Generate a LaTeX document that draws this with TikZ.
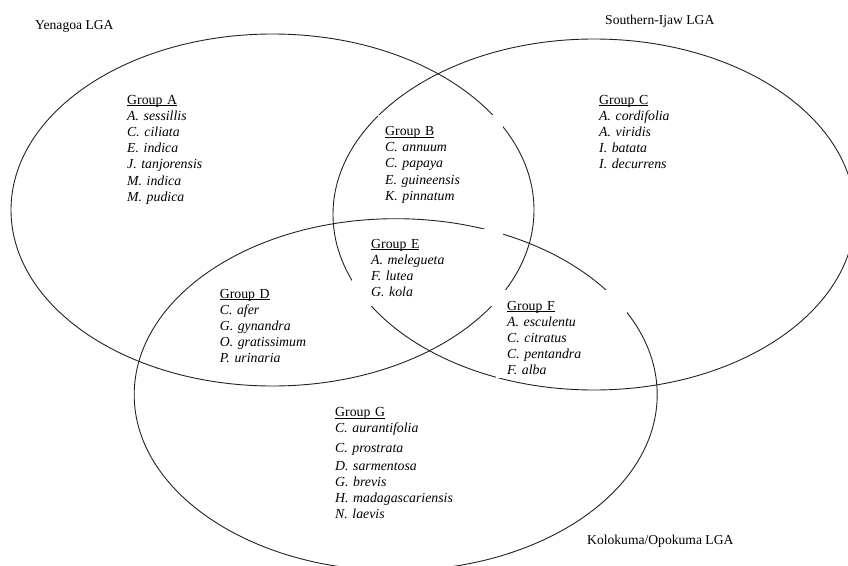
\documentclass[tikz,border=0pt]{standalone}
\usepackage{fontspec}
\setmainfont{Liberation Serif}
\definecolor{line1}{HTML}{222222}

\begin{document}
\begin{tikzpicture}[x=1pt, y=-1pt,
  lga/.style={anchor=base west, inner sep=0pt, font=\fontsize{13.6}{16}\selectfont},
  grp/.style={anchor=base west, align=left, fill=white, inner ysep=0pt, font=\fontsize{13.8}{16.2}\selectfont\itshape},
  set/.style={draw=line1, line width=0.9pt}]
\clip (0,0) rectangle (848,565);
\draw[set] (272.5,210) ellipse [x radius=261.5pt, y radius=176pt];
\draw[set] (594,214.5) ellipse [x radius=261pt, y radius=175.5pt];
\draw[set] (395.7,394.7) ellipse [x radius=261.5pt, y radius=176pt];
\node[lga] (yenagoa) at (35,29) {Yenagoa LGA};
\node[lga] (ijaw) at (605,24.5) {Southern-Ijaw LGA};
\node[lga] (kolokuma) at (587,544.5) {Kolokuma/Opokuma LGA};
\node[grp, inner xsep=4pt, text width=100pt] (grpA) at (123,104)
  {\underbar{\upshape Group A}\\ A. sessillis\\ C. ciliata\\ E. indica\\ J. tanjorensis\\ M. indica\\ M. pudica};
\node[grp, inner xsep=7pt, text width=111pt, text height=20.5pt, text depth=67pt] (grpB) at (378,135.5)
  {\underbar{\upshape Group B}\\ C. annuum\\ C. papaya\\ E. guineensis\\ K. pinnatum};
\node[grp, inner xsep=4pt, text width=100pt] (grpC) at (595,104)
  {\underbar{\upshape Group C}\\ A. cordifolia\\ A. viridis\\ I. batata\\ I. decurrens};
\node[grp, inner xsep=4pt, text width=120pt] (grpD) at (215.6,298)
  {\underbar{\upshape Group D}\\ C. afer\\ G. gynandra\\ O. gratissimum\\ P. urinaria};
\node[grp, inner xsep=19pt, text width=113pt, text height=19pt, text depth=58pt] (grpE) at (352,248)
  {\underbar{\upshape Group E}\\ A. melegueta\\ F. lutea\\ G. kola};
\node[grp, inner xsep=11pt, text width=109pt, text height=20pt, text depth=68pt] (grpF) at (496,310)
  {\underbar{\upshape Group F}\\ A. esculentu\\ C. citratus\\ C. pentandra\\ F. alba};
\node[grp, inner xsep=4pt, text width=140pt] (grpG) at (331,416.6)
  {\underbar{\upshape Group G}\\ C. aurantifolia\\[3pt] C. prostrata\\[2pt] D. sarmentosa\\ G. brevis\\ H. madagascariensis\\ N. laevis};
\end{tikzpicture}
\end{document}
